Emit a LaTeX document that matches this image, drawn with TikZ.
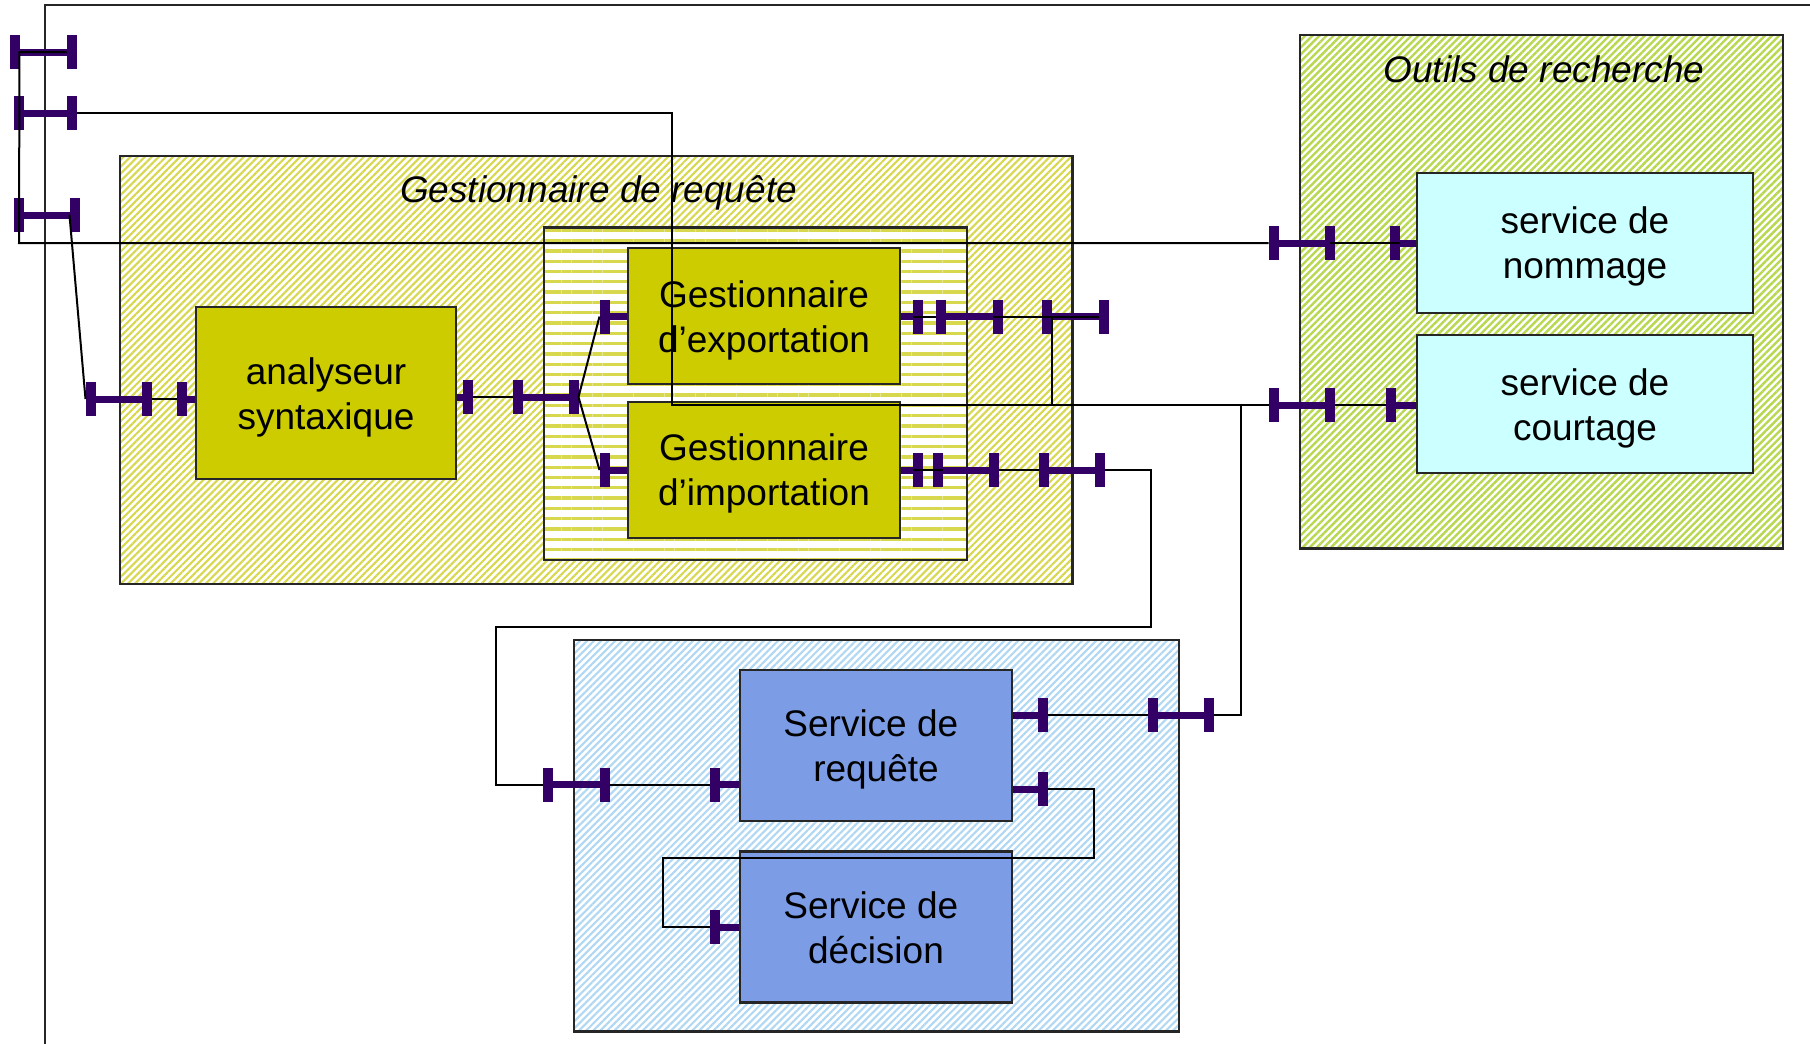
\documentclass[tikz,border=0pt]{standalone}
\usepackage{fontspec}
\setmainfont{Liberation Sans}
\usetikzlibrary{patterns.meta}
\definecolor{olive}{HTML}{CCCC00}
\definecolor{bluebox}{HTML}{7C9CE6}
\definecolor{cyanbox}{HTML}{CCFFFF}
\definecolor{iface}{HTML}{330066}
\definecolor{hatchy}{HTML}{D8D84E}
\definecolor{hatchg}{HTML}{B8D850}
\definecolor{hatchb}{HTML}{B0D8F4}
\newcommand{\dn}[1]{\rule{0pt}{#1pt}}
\tikzset{
  x=1pt,y=-1pt,
  groupbox/.style={draw=black!85,line width=2.4pt},
  hatchA/.style={pattern={Lines[angle=45,distance=5pt,line width=2.1pt]},pattern color=hatchy},
  hatchI/.style={pattern={Lines[angle=0,distance=10.3pt,line width=3.3pt]},pattern color=hatchy},
  hatchO/.style={pattern={Lines[angle=45,distance=5pt,line width=2.4pt]},pattern color=hatchg},
  hatchB/.style={pattern={Lines[angle=45,distance=5pt,line width=2.1pt]},pattern color=hatchb},
  compbox/.style={draw=black!85,line width=2.4pt,inner sep=0pt,align=center,font=\fontsize{37}{45}\selectfont},
  olivebox/.style={compbox,fill=olive},
  bluecomp/.style={compbox,fill=bluebox},
  cyancomp/.style={compbox,fill=cyanbox},
  grouplabel/.style={inner sep=0pt,font=\fontsize{37}{42}\selectfont\itshape},
  ifbar/.style={rectangle,fill=iface,minimum width=10pt,minimum height=34pt,inner sep=0pt,outer sep=0pt},
  iflink/.style={draw=iface,line width=7pt},
  wire/.style={draw=black,line width=2pt,line join=miter},
}
\begin{document}
\begin{tikzpicture}
\useasboundingbox (0,0) rectangle (1810,1044);
\fill[white] (0,0) rectangle (1810,1044);
% outer frame
\coordinate (fa) at (45,1044);
\coordinate (fb) at (45,5);
\coordinate (fc) at (1810,5);
\draw[wire,draw=black!85] (fa) -- (fb) -- (fc);
% groups
\path[hatchA] (120,156) rectangle (1072.5,584);
\draw[groupbox] (120,156) rectangle (1072.5,584);
\fill[white] (544,227.5) rectangle (967,560);
\path[hatchI] (544,227.5) rectangle (967,560);
\draw[groupbox] (544,227.5) rectangle (967,560);
\path[hatchO] (1300,35) rectangle (1783,548.5);
\draw[groupbox] (1300,35) rectangle (1783,548.5);
\path[hatchB] (574,640) rectangle (1179,1031.5);
\draw[groupbox] (574,640) rectangle (1179,1031.5);
\node[grouplabel] (glabel) at (598.5,192.5) {Gestionnaire de requête};
\node[grouplabel] (olabel) at (1544,69) {Outils de recherche};
% components
\node[olivebox,minimum width=260pt,minimum height=172pt] (analyseur) at (326,393) {\dn{35}analyseur\\syntaxique};
\node[olivebox,minimum width=272pt,minimum height=136pt] (export) at (764,316) {\dn{35}Gestionnaire\\d’exportation};
\node[olivebox,minimum width=272pt,minimum height=136pt] (import) at (764,470) {\dn{33}Gestionnaire\\d’importation};
\node[cyancomp,minimum width=336pt,minimum height=140pt] (nommage) at (1585,243) {\dn{34}service de\\nommage};
\node[cyancomp,minimum width=336pt,minimum height=138pt] (courtage) at (1585,404) {\dn{35}service de\\courtage};
\node[bluecomp,minimum width=272pt,minimum height=151pt] (requete) at (876,745.5) {\dn{35}Service de\hspace*{0.278em}\\requête};
\node[bluecomp,minimum width=272pt,minimum height=151pt] (decision) at (876,927) {\dn{29}Service de\hspace*{0.278em}\\décision};
% interface bars
\node[ifbar] (t1l) at (14.5,52) {};
\node[ifbar] (t1r) at (71.5,52) {};
\node[ifbar] (t2l) at (18.5,113) {};
\node[ifbar] (t2r) at (71.5,113) {};
\node[ifbar] (t3l) at (18.5,215) {};
\node[ifbar] (t3r) at (74.5,215) {};
\node[ifbar] (a1) at (90.5,399) {};
\node[ifbar] (a2) at (146.5,399) {};
\node[ifbar] (a3) at (181.5,399) {};
\node[ifbar] (a4) at (467.5,397) {};
\node[ifbar] (a5) at (517.5,397) {};
\node[ifbar] (a6) at (573.5,397) {};
\node[ifbar] (e1) at (604.5,316.5) {};
\node[ifbar] (i1) at (604.5,470) {};
\node[ifbar] (e2) at (917.5,316.5) {};
\node[ifbar] (e3) at (940.5,316.5) {};
\node[ifbar] (e4) at (997.5,316.5) {};
\node[ifbar] (e5) at (1047,316.5) {};
\node[ifbar] (e6) at (1103.5,316.5) {};
\node[ifbar] (i2) at (917.5,470) {};
\node[ifbar] (i3) at (937.5,470) {};
\node[ifbar] (i4) at (993.5,470) {};
\node[ifbar] (i5) at (1043.5,470) {};
\node[ifbar] (i6) at (1099.5,470) {};
\node[ifbar] (n1) at (1273.5,243) {};
\node[ifbar] (n2) at (1329.5,243) {};
\node[ifbar] (n3) at (1395,243) {};
\node[ifbar] (c1) at (1273.5,405) {};
\node[ifbar] (c2) at (1329.5,405) {};
\node[ifbar] (c3) at (1391,405) {};
\node[ifbar] (q1) at (1042.5,715) {};
\node[ifbar] (q2) at (1153,715) {};
\node[ifbar] (q3) at (1208.5,715) {};
\node[ifbar] (q4) at (1042.5,789) {};
\node[ifbar] (r1) at (547.5,784.5) {};
\node[ifbar] (r2) at (604.5,784.5) {};
\node[ifbar] (r3) at (714.5,784.5) {};
\node[ifbar] (d1) at (714.5,927) {};
% thick links
\draw[iflink] (t1l.center) -- (t1r.center);
\draw[iflink] (t2l.center) -- (t2r.center);
\draw[iflink] (t3l.center) -- (t3r.center);
\draw[iflink] (a1.center) -- (a2.center);
\draw[iflink] (a3.center) -- (a3.center -| analyseur.west);
\draw[iflink] (a4.center) -- (a4.center -| analyseur.east);
\draw[iflink] (a5.center) -- (a6.center);
\draw[iflink] (e1.center) -- (e1.center -| export.west);
\draw[iflink] (i1.center) -- (i1.center -| import.west);
\draw[iflink] (e2.center) -- (e2.center -| export.east);
\draw[iflink] (i2.center) -- (i2.center -| import.east);
\draw[iflink] (e3.center) -- (e4.center);
\draw[iflink] (i3.center) -- (i4.center);
\draw[iflink] (e5.center) -- (e6.center);
\draw[iflink] (i5.center) -- (i6.center);
\draw[iflink] (n1.center) -- (n2.center);
\draw[iflink] (n3.center) -- (n3.center -| nommage.west);
\draw[iflink] (c1.center) -- (c2.center);
\draw[iflink] (c3.center) -- (c3.center -| courtage.west);
\draw[iflink] (q1.center) -- (q1.center -| requete.east);
\draw[iflink] (q2.center) -- (q3.center);
\draw[iflink] (q4.center) -- (q4.center -| requete.east);
\draw[iflink] (r1.center) -- (r2.center);
\draw[iflink] (r3.center) -- (r3.center -| requete.west);
\draw[iflink] (d1.center) -- (d1.center -| decision.west);
% wires
\coordinate (wa) at (19,243);
\coordinate (wb) at (672,113);
\coordinate (wc) at (672,405);
\coordinate (wd) at (1241,715);
\coordinate (we) at (1241,405);
\coordinate (wf) at (1151,470);
\coordinate (wg) at (1151,626.5);
\coordinate (wh) at (496,626.5);
\coordinate (wi) at (496,784.5);
\coordinate (wj) at (1094,789);
\coordinate (wk) at (1094,858);
\coordinate (wl) at (663,858);
\coordinate (wm) at (663,927);
\draw[wire] (t1r.west) -- (t1l.east) -- (wa) -- (n1.west);
\draw[wire] (n2.center) -- (n3.east);
\draw[wire] (t2r.east) -- (wb) -- (wc) -- (c1.west);
\draw[wire] (c2.east) -- (c3.west);
\draw[wire] (t3r.west) -- (a1.west);
\draw[wire] (a2.east) -- (a3.west);
\draw[wire] (a4.east) -- (a5.west);
\draw[wire] (a6.east) -- (e1.west);
\draw[wire] (a6.east) -- (i1.west);
\draw[wire] (e2.west) -- (e3.west);
\draw[wire] (e4.west) -- (e6.west);
\draw[wire] (e5.east) -- (e5.east |- wc);
\draw[wire] (i2.west) -- (i3.east);
\draw[wire] (i4.east) -- (i5.west);
\draw[wire] (i6.east) -- (wf) -- (wg) -- (wh) -- (wi) -- (r1.west);
\draw[wire] (r2.east) -- (r3.west);
\draw[wire] (q1.east) -- (q2.west);
\draw[wire] (q3.east) -- (wd) -- (we);
\draw[wire] (q4.east) -- (wj) -- (wk) -- (wl) -- (wm) -- (d1.west);
\end{tikzpicture}
\end{document}
